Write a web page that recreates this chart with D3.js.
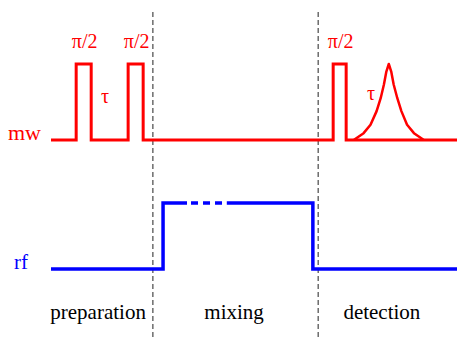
<!DOCTYPE html>
<html>
<head>
<meta charset="utf-8">
<script src="https://cdn.jsdelivr.net/npm/d3@7"></script>
<style>
html,body{margin:0;padding:0;background:#fff;}
svg{display:block;}
</style>
</head>
<body>
<script>
// ---- data (time units 0..100, levels 0..1) ----
const mwPulses = [[6.2, 9.9], [19.0, 22.7], [69.5, 72.7]];
const pulseLabels = ["π/2", "π/2", "π/2"];
const tauLabels = [{t: 13.3, text: "τ"}, {t: 78.8, text: "τ"}];
const echoTimes = [74.6, 75.1, 77.0, 78.7, 80.2, 81.2, 82.0, 82.6, 83.2, 83.8, 84.4, 85.3, 86.3, 87.7, 89.4, 91.3, 91.8];
const echoAmps  = [0.0, 0.02, 0.09, 0.2, 0.38, 0.55, 0.73, 0.9, 1.0, 0.9, 0.73, 0.55, 0.38, 0.2, 0.09, 0.02, 0.0];
const rfOn = [27.6, 64.5];
const rfGap = [33.5, 43.3];
const dividers = [25.1, 65.8];
const periods = [{t: 11.6, text: "preparation"}, {t: 45.1, text: "mixing"}, {t: 81.5, text: "detection"}];
const channels = ["mw", "rf"];

const W = 457, H = 342;
const FONT = "'Liberation Serif'";
const svg = d3.select("body").append("svg").attr("width", W).attr("height", H);

const x = d3.scaleLinear().domain([0, 100]).range([51, 457]);
const yMw = d3.scaleLinear().domain([0, 1]).range([140, 64]);
const yRf = d3.scaleLinear().domain([0, 1]).range([269, 203]);
const red = "#ff0000", blue = "#0000ff";

// dividers
svg.selectAll("line.div").data(dividers).enter().append("line")
  .attr("x1", d => x(d)).attr("x2", d => x(d))
  .attr("y1", 12).attr("y2", 338)
  .attr("stroke", "#222").attr("stroke-width", 1)
  .attr("stroke-dasharray", "5,3");

// mw trace
const mwPts = [[0, 0]];
mwPulses.forEach(p => { mwPts.push([p[0], 0], [p[0], 1], [p[1], 1], [p[1], 0]); });
mwPts.push([100, 0]);
const line = (ys) => d3.line().x(d => x(d[0])).y(d => ys(d[1]));
svg.append("path").attr("d", line(yMw)(mwPts))
  .attr("fill", "none").attr("stroke", red).attr("stroke-width", 3)
  .attr("stroke-linejoin", "miter");

// echo
const echo = echoTimes.map((t, i) => [t, echoAmps[i]]);
svg.append("path").attr("d", line(yMw)(echo))
  .attr("fill", "none").attr("stroke", red).attr("stroke-width", 2.5)
  .attr("stroke-linejoin", "round");

// pulse labels
svg.selectAll("text.pl").data(mwPulses).enter().append("text")
  .attr("x", d => x((d[0] + d[1]) / 2) + 1).attr("y", 48)
  .attr("text-anchor", "middle").attr("fill", red)
  .style("font-family", FONT).style("font-size", "20px")
  .text((d, i) => pulseLabels[i]);

svg.selectAll("text.tau").data(tauLabels).enter().append("text")
  .attr("x", d => x(d.t)).attr("y", (d, i) => i === 0 ? 103 : 100)
  .attr("text-anchor", "middle").attr("fill", red)
  .style("font-family", FONT).style("font-size", "20px")
  .text(d => d.text);

// rf trace
const rfSolid1 = [[0, 0], [rfOn[0], 0], [rfOn[0], 1], [rfGap[0], 1]];
const rfSolid2 = [[rfGap[1], 1], [rfOn[1], 1], [rfOn[1], 0], [100, 0]];
[rfSolid1, rfSolid2].forEach(pts => {
  svg.append("path").attr("d", line(yRf)(pts))
    .attr("fill", "none").attr("stroke", blue).attr("stroke-width", 3.5);
});
svg.append("line")
  .attr("x1", x(rfGap[0])).attr("x2", x(rfGap[1]))
  .attr("y1", yRf(1)).attr("y2", yRf(1))
  .attr("stroke", blue).attr("stroke-width", 3.5)
  .attr("stroke-dasharray", "7,5").attr("stroke-dashoffset", -4);

// channel labels
svg.append("text").attr("x", 8).attr("y", 140).attr("fill", red)
  .style("font-family", FONT).style("font-size", "22px").text(channels[0]);
svg.append("text").attr("x", 14).attr("y", 269).attr("fill", blue)
  .style("font-family", FONT).style("font-size", "21px").text(channels[1]);

// period labels
svg.selectAll("text.per").data(periods).enter().append("text")
  .attr("x", d => x(d.t)).attr("y", 319)
  .attr("text-anchor", "middle").attr("fill", "#000")
  .style("font-family", FONT).style("font-size", "21px")
  .text(d => d.text);
</script>
</body>
</html>
